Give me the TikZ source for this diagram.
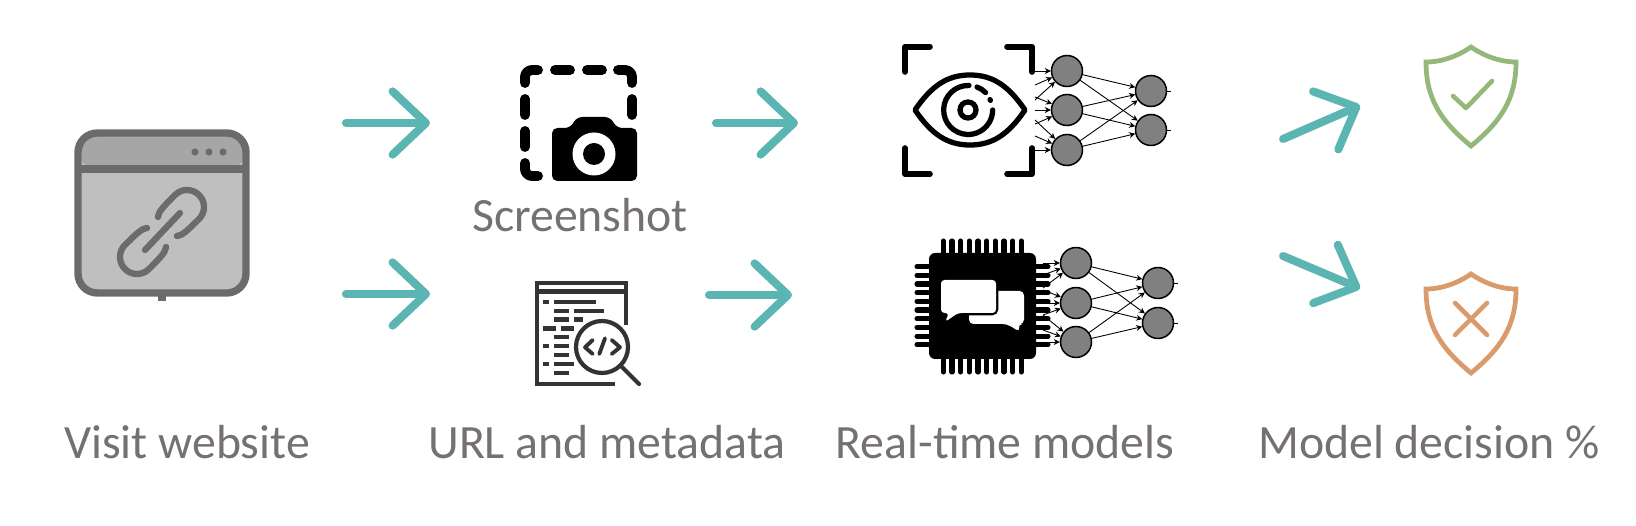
\documentclass[tikz,border=0pt]{standalone}
\usepackage{fontspec}
\setmainfont{Carlito}
\usetikzlibrary{arrows.meta,positioning}
\definecolor{flowteal}{HTML}{5BB5B3}
\definecolor{labelgray}{HTML}{767171}
\definecolor{framegray}{HTML}{6B6B6B}
\definecolor{headgray}{HTML}{A6A6A6}
\definecolor{pagegray}{HTML}{BFBFBF}
\definecolor{codegray}{HTML}{333333}
\definecolor{okgreen}{HTML}{93B87A}
\definecolor{badorange}{HTML}{D99A6C}
\begin{document}
\begin{tikzpicture}[
    x=0.02cm, y=-0.02cm,
    label/.style={text=labelgray, font=\fontsize{27.2}{30}\selectfont, anchor=base, inner sep=0pt},
    flow/.style={-{Straight Barb[length=19pt,width=36pt,round]}, line width=4.6pt, line cap=round, line join=round, flowteal},
    neuron/.style={circle, draw=black, fill=black!50, line width=0.85pt, minimum size=0.62cm, inner sep=0pt},
    wire/.style={-{Stealth[length=3.4pt,width=3.4pt]}, line width=0.5pt},
    stub/.style={line width=0.5pt},
    icon/.style={line cap=round, line join=round, line width=#1},
    icon/.default=3pt
]
    \useasboundingbox (0,0) rectangle (1636,526);

    % browser window
    \fill[framegray] (158,295) rectangle (166,301);
    \fill[pagegray, rounded corners=11pt] (78,133) rectangle (246,293);
    \fill[headgray, rounded corners=11pt] (78,169) -- (78,133) -- (246,133) -- (246,169) -- cycle;
    \draw[framegray, line width=4.2pt, rounded corners=11pt] (78,133) rectangle (246,293);
    \draw[framegray, line width=4.2pt] (78,169) -- (246,169);
    \foreach \x in {195,209,223}
        \fill[framegray] (\x,152) circle (3.6);
    \draw[icon=3.6pt, framegray] (158,217) .. controls (159,212) and (160,210) .. (175,195)
        arc[start angle=225, end angle=405, radius=17] (199,219) .. controls (184,234) and (182,235) .. (177,236);
    \draw[icon=3.6pt, framegray] (166,247) .. controls (165,252) and (164,254) .. (149,269)
        arc[start angle=45, end angle=225, radius=17] (125,245) .. controls (140,230) and (142,229) .. (147,228);
    \draw[icon=3.6pt, framegray] (180,213) -- (145,250);

    % screenshot icon
    \draw[icon=5.6pt, rounded corners=4pt] (525,83) -- (525,70) -- (538,70);
    \draw[icon=5.6pt, rounded corners=4pt] (618,70) -- (632,70) -- (632,83);
    \draw[icon=5.6pt, rounded corners=4pt] (525,163) -- (525,176) -- (538,176);
    \foreach \x in {555,587}
        \draw[icon=5.6pt] (\x,70) -- ++(15,0);
    \foreach \y in {99,131}
        \draw[icon=5.6pt] (525,\y) -- ++(0,16);
    \draw[icon=5.6pt] (632,99) -- (632,115);
    \fill[rounded corners=3pt] (552,181) -- (552,128) -- (570,128) -- (577,117) -- (610,117) -- (617,128) -- (637,128) -- (637,181) -- cycle;
    \fill[white] (594,154) circle (21.5);
    \fill (594,154) circle (11);

    % code search icon
    \draw[codegray, line width=2.3pt] (626,325) -- (626,283) -- (537,283) -- (537,384) -- (615,384);
    \draw[codegray, line width=2.3pt] (537,291.5) -- (626,291.5);
    \foreach \xa/\xb/\y in {543/549/302, 554/596/302, 554/569/311, 574/604/311, 554/569/319.5, 574/583/319.5,
                            543/556/328.5, 561/574/328.5, 554/569/337, 543/549/346, 554/569/346,
                            554/569/355, 543/549/364, 554/574/364, 554/569/373}
        \draw[codegray, line width=2.3pt] (\xa,\y) -- (\xb,\y);
    \draw[codegray, fill=white, line width=2.4pt] (602,347) circle (26);
    \draw[icon=2.4pt, codegray] (622,367) -- (639,384);
    \draw[icon=2.2pt, codegray] (592.7,340) -- (585,347.3) -- (592.7,354);
    \draw[icon=2.2pt, codegray] (605,338.3) -- (599.3,354);
    \draw[icon=2.2pt, codegray] (611.7,340) -- (620,347.3) -- (611.7,354);

    % eye icon
    \draw[icon=3.2pt] (905,72) -- (905,46.7) -- (930,46.7);
    \draw[icon=3.2pt] (1007,46.7) -- (1032,46.7) -- (1032,72);
    \draw[icon=3.2pt] (905,148) -- (905,174) -- (930,174);
    \draw[icon=3.2pt] (1007,174) -- (1032,174) -- (1032,148);
    \draw[icon=3pt] (915,110) .. controls (932,85) and (948,75) .. (970,75) .. controls (992,75) and (1008,85) .. (1025,110)
        .. controls (1008,135) and (992,145) .. (970,145) .. controls (948,145) and (932,135) .. (915,110) -- cycle;
    \draw[icon=3pt] (969,85.5) arc[start angle=272, end angle=0, radius=24.5];
    \draw[icon=3pt] (977,87) arc[start angle=291, end angle=315, radius=24.5];
    \draw[icon=3pt] (990,99.6) arc[start angle=335, end angle=337, radius=24.5];
    \draw[line width=3pt] (968,110) circle (8);

    % chip icon
    \foreach \i in {0,...,9} {
        \draw[icon=2.9pt] (943.3+\i*8.67,241) -- (943.3+\i*8.67,372);
        \draw[icon=2.9pt] (917,266.7+\i*8.67) -- (1048,266.7+\i*8.67);
    }
    \fill[rounded corners=3.5pt] (929,253) rectangle (1036,359);
    \fill[white, rounded corners=2.5pt] (969,291) -- (1024,291) -- (1024,324) -- (1018,324) -- (1020,332) -- (1007,324) -- (969,324) -- cycle;
    \draw[line width=2.8pt, fill=white, rounded corners=2.5pt] (941,280) -- (996,280) -- (996,313) -- (958,313) -- (945,322) -- (949,313) -- (941,313) -- cycle;
    \fill[white, rounded corners=2pt] (941,280) -- (996,280) -- (996,313) -- (958,313) -- (945,322) -- (949,313) -- (941,313) -- cycle;

    % shields
    \draw[okgreen, line width=2.7pt, line join=miter] (1471,47) .. controls (1458,56) and (1442,62) .. (1426,62)
        .. controls (1426,100) and (1442,122) .. (1471,146) .. controls (1500,122) and (1516,100) .. (1516,62)
        .. controls (1500,62) and (1484,56) .. (1471,47) -- cycle;
    \draw[icon=2.6pt, okgreen] (1453,96) -- (1466,108) -- (1492,81);
    \draw[badorange, line width=2.7pt, line join=miter] (1471,274) .. controls (1458,283) and (1442,289) .. (1426,289)
        .. controls (1426,327) and (1442,349) .. (1471,373) .. controls (1500,349) and (1516,327) .. (1516,289)
        .. controls (1500,289) and (1484,283) .. (1471,274) -- cycle;
    \draw[icon=2.6pt, badorange] (1455,303) -- (1487,335);
    \draw[icon=2.6pt, badorange] (1487,303) -- (1455,335);

    % upper network
    \node[neuron] (ua) at (1067,71) {};
    \node[neuron] (ub) at (1067,110) {};
    \node[neuron] (uc) at (1067,150) {};
    \node[neuron] (ud) at (1151,91) {};
    \node[neuron] (ue) at (1151,130) {};
    \foreach \n/\y [count=\i] in {ua/71,ua/85,ua/100,ub/97,ub/110,ub/124,uc/120,uc/136,uc/150} {
        \coordinate (uin\i) at (1035,\y);
        \draw[wire] (uin\i) -- (\n);
    }
    \foreach \a in {ua,ub,uc}
        \foreach \b in {ud,ue}
            \draw[wire] (\a) -- (\b);
    \coordinate[right=0.07cm of ud.east] (uoa);
    \coordinate[right=0.07cm of ue.east] (uob);
    \draw[stub] (ud) -- (uoa);
    \draw[stub] (ue) -- (uob);

    % lower network
    \node[neuron] (la) at (1076,263) {};
    \node[neuron] (lb) at (1076,303) {};
    \node[neuron] (lc) at (1076,342) {};
    \node[neuron] (ld) at (1158,283) {};
    \node[neuron] (le) at (1158,323) {};
    \foreach \n/\y [count=\i] in {la/263,la/275,la/288,lb/290,lb/303,lb/315,lc/315,lc/330,lc/342} {
        \coordinate (lin\i) at (1043,\y);
        \draw[wire] (lin\i) -- (\n);
    }
    \foreach \a in {la,lb,lc}
        \foreach \b in {ld,le}
            \draw[wire] (\a) -- (\b);
    \coordinate[right=0.07cm of ld.east] (loa);
    \coordinate[right=0.07cm of le.east] (lob);
    \draw[stub] (ld) -- (loa);
    \draw[stub] (le) -- (lob);

    % labels
    \node[label] (visit) at (187,459) {Visit website};
    \node[label] (shot) at (580,231.5) {Screenshot};
    \node[label] (meta) at (607,459) {URL and metadata};
    \node[label] (models) at (1005,459) {Real-time models};
    \node[label] (decision) at (1429,459) {Model decision \%};

    % arrows
    \coordinate (fa1) at (346,123);   \coordinate (fa2) at (430,123);
    \coordinate (fb1) at (346,294);   \coordinate (fb2) at (430,294);
    \coordinate (fc1) at (716,123);   \coordinate (fc2) at (798,123);
    \coordinate (fd1) at (709,295);   \coordinate (fd2) at (792,295);
    \coordinate (fe1) at (1283,139);  \coordinate (fe2) at (1360,105.5);
    \coordinate (ff1) at (1283,256);  \coordinate (ff2) at (1360,288.5);
    \foreach \k in {a,...,f}
        \draw[flow] (f\k1) -- (f\k2);
\end{tikzpicture}
\end{document}
